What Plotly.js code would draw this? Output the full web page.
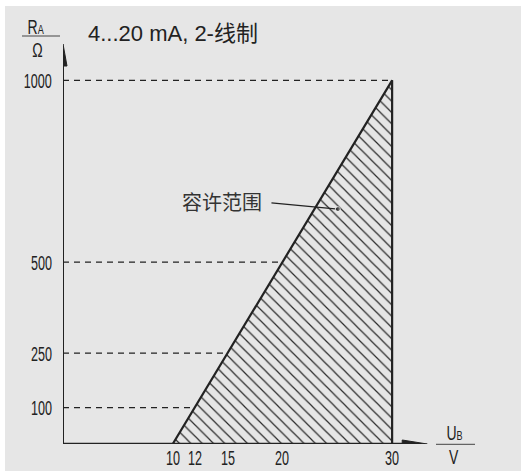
<!DOCTYPE html>
<html><head><meta charset="utf-8">
<script src="https://cdn.plot.ly/plotly-3.0.1.min.js"></script>
<style>html,body{margin:0;padding:0;background:#fff;overflow:hidden;} #chart{position:absolute;left:5px;top:6px;width:516px;height:465px;}</style>
</head><body><div id="chart"></div>
<script>
// ---- data ----
const ubTickVals = [10, 12, 15, 20, 30];
const ubTickText = ['10', '12', '15', '20', '30'];
const raTickVals = [100, 250, 500, 1000];
const raTickText = ['100', '250', '500', '1000'];
const regionU = [10, 30, 30, 10];
const regionR = [0, 1000, 0, 0];
const guideU = [12, 15, 20, 30];
const guideR = [100, 250, 500, 1000];
const titleText = '4...20 mA, 2-线制';
const regionLabel = '容许范围';
const regionLabelPos = [14.5, 666];
const leaderU = [19.0, 25.05];
const leaderR = [663, 646];
const xRange = [0, 34];
const yRange = [0, 1100];
const xArrowTip = 33.2;

// ---- layout geometry ----
const L = 58, T = 38, R = 85, B = 27, DW = 516, DH = 465, OX = 5, OY = 6;
const W = DW - L - R, H = DH - T - B;
const px = p => (p - OX - L) / W;
const py = p => 1 - (p - OY - T) / H;

const ink = '#222';
const bg = '#e6e6e6';

// horizontal & vertical guide lines
const hx = [], hy = [], vx = [], vy = [];
guideU.forEach((u, i) => {
  hx.push(0, u, null); hy.push(guideR[i], guideR[i], null);
  if (u < regionU[1]) { vx.push(u, u, null); vy.push(guideR[i], 0, null); }
});

const traces = [
  { x: hx, y: hy, mode: 'lines', line: { color: ink, width: 1.2, dash: '6px,5px' }, hoverinfo: 'skip' },
  { x: vx, y: vy, mode: 'lines', line: { color: ink, width: 1.2, dash: '6px,5px' }, hoverinfo: 'skip' },
  { x: regionU, y: regionR, mode: 'lines', fill: 'toself', fillcolor: bg,
    fillpattern: { shape: '\\', fgcolor: '#2a2a2a', bgcolor: bg, size: 8, solidity: 0.15 },
    line: { color: ink, width: 2.2 }, hoverinfo: 'skip' },
  { x: leaderU, y: leaderR, mode: 'lines+markers', line: { color: ink, width: 1.2 },
    marker: { size: [0, 5], color: ink }, hoverinfo: 'skip' }
];

const shapes = [
  { type: 'line', xref: 'x', yref: 'y', x0: 0, x1: 0, y0: 0, y1: yRange[1] - 50, line: { color: ink, width: 2 } },
  { type: 'path', xref: 'x', yref: 'y', xsizemode: 'pixel', ysizemode: 'pixel', xanchor: 0, yanchor: yRange[1],
    path: 'M -4,-22 L 0,0 L 4,-22 Z', fillcolor: ink, line: { color: ink, width: 1 } },
  { type: 'line', xref: 'x', yref: 'y', x0: 0, x1: xArrowTip - 1.5, y0: 0, y1: 0, line: { color: ink, width: 2.6 } },
  { type: 'path', xref: 'x', yref: 'y', xsizemode: 'pixel', ysizemode: 'pixel', xanchor: xArrowTip, yanchor: 0,
    path: 'M -25,-4 L 0,0 L -25,4 Z', fillcolor: ink, line: { color: ink, width: 1 } },
  { type: 'line', xref: 'paper', yref: 'paper', x0: px(22), x1: px(60), y0: py(36), y1: py(36), line: { color: '#444', width: 1 } },
  { type: 'line', xref: 'paper', yref: 'paper', x0: px(436), x1: px(475), y0: py(444.3), y1: py(444.3), line: { color: '#444', width: 1 } }
];

const narrow = 'Liberation Sans Narrow, Arial Narrow, Liberation Sans, sans-serif';
const squeezeIdx = {};
const annotations = [];
const addAnn = (a, sq) => { if (sq) squeezeIdx[annotations.length] = sq; annotations.push(Object.assign({ borderpad: 0 }, a)); };

addAnn({ xref: 'x', yref: 'y', x: regionLabelPos[0], y: regionLabelPos[1], text: regionLabel, showarrow: false,
  font: { family: 'Noto Sans CJK SC', size: 20, color: '#333' }, xanchor: 'center', yanchor: 'middle' });
addAnn({ xref: 'paper', yref: 'paper', x: px(36), y: py(27), text: 'R<span style="font-size:13px">A</span>', showarrow: false,
  font: { family: narrow, size: 20, color: ink }, xanchor: 'center', yanchor: 'middle' }, 0.7);
addAnn({ xref: 'paper', yref: 'paper', x: px(37.5), y: py(49.5), text: 'Ω', showarrow: false,
  font: { family: narrow, size: 20, color: ink }, xanchor: 'center', yanchor: 'middle' }, 0.7);
addAnn({ xref: 'paper', yref: 'paper', x: px(454), y: py(433), text: 'U<span style="font-size:13px">B</span>', showarrow: false,
  font: { family: narrow, size: 20, color: ink }, xanchor: 'center', yanchor: 'middle' }, 0.7);
addAnn({ xref: 'paper', yref: 'paper', x: px(454), y: py(456.5), text: 'V', showarrow: false,
  font: { family: narrow, size: 20, color: ink }, xanchor: 'center', yanchor: 'middle' }, 0.7);
// tick labels
ubTickVals.forEach((v, i) => addAnn({ xref: 'x', yref: 'y', x: v, y: 0, text: ubTickText[i], showarrow: false,
  font: { family: narrow, size: 20, color: ink }, xanchor: 'center', yanchor: 'top', yshift: -2 }, 0.63));
raTickVals.forEach((v, i) => addAnn({ xref: 'x', yref: 'y', x: 0, y: v, text: raTickText[i], showarrow: false,
  font: { family: narrow, size: 21, color: ink }, xanchor: 'right', yanchor: 'middle', xshift: -10 }, 0.6));

const layout = {
  width: DW, height: DH,
  margin: { l: L, r: R, t: T, b: B, pad: 0 },
  paper_bgcolor: bg, plot_bgcolor: bg,
  showlegend: false,
  title: { text: titleText, xref: 'container', x: (88 - OX) / DW, xanchor: 'left',
    yref: 'container', y: 1 - (33 - OY) / DH, yanchor: 'middle',
    font: { family: 'Liberation Sans, Noto Sans CJK SC, sans-serif', size: 22, color: ink } },
  xaxis: { range: xRange, showline: false, zeroline: false, showgrid: false, showticklabels: false, ticks: '', fixedrange: true },
  yaxis: { range: yRange, showline: false, zeroline: false, showgrid: false, showticklabels: false, ticks: '', fixedrange: true },
  shapes: shapes, annotations: annotations
};

Plotly.newPlot('chart', traces, layout, { staticPlot: true, displayModeBar: false }).then(() => {
  document.querySelectorAll('g.annotation').forEach(g => {
    const idx = +g.getAttribute('data-index');
    const s = squeezeIdx[idx];
    if (!s) return;
    const t = g.querySelector('text');
    if (!t) return;
    const bb = t.getBBox();
    const a = annotations[idx];
    const ax = a.xanchor === 'right' ? bb.x + bb.width : (a.xanchor === 'left' ? bb.x : bb.x + bb.width / 2);
    const ay = bb.y + bb.height / 2;
    const prev = t.getAttribute('transform') || '';
    t.setAttribute('transform', prev + ` translate(${ax},${ay}) scale(${s},1) translate(${-ax},${-ay})`);
  });
});
</script>
</body></html>
